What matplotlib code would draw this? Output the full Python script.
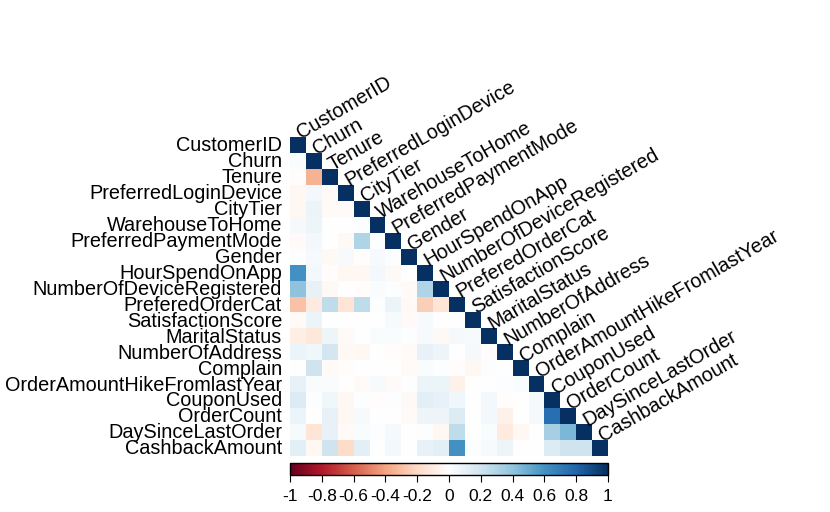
import numpy as np
import matplotlib.pyplot as plt
from matplotlib.colors import Normalize, LinearSegmentedColormap

plt.rcParams['font.family'] = ['Liberation Sans', 'DejaVu Sans']

labels = ['CustomerID', 'Churn', 'Tenure', 'PreferredLoginDevice', 'CityTier',
          'WarehouseToHome', 'PreferredPaymentMode', 'Gender', 'HourSpendOnApp',
          'NumberOfDeviceRegistered', 'PreferedOrderCat', 'SatisfactionScore',
          'MaritalStatus', 'NumberOfAddress', 'Complain',
          'OrderAmountHikeFromlastYear', 'CouponUsed', 'OrderCount',
          'DaySinceLastOrder', 'CashbackAmount']

# lower triangle of the correlation matrix, row by row (excluding diagonal)
lower = [
    [],
    [0.02],
    [-0.02, -0.35],
    [-0.05, 0.05, -0.03],
    [-0.05, 0.08, -0.03, -0.03],
    [0.04, 0.07, -0.01, 0.0, 0.01],
    [-0.03, 0.05, -0.01, -0.04, 0.30, 0.01],
    [0.01, 0.03, -0.04, 0.03, -0.02, 0.03, 0.01],
    [0.60, 0.05, -0.02, -0.05, -0.05, 0.05, -0.04, 0.0],
    [0.40, 0.10, -0.04, 0.0, -0.02, 0.02, 0.01, -0.03, 0.30],
    [-0.30, -0.12, 0.25, -0.15, 0.25, 0.01, 0.08, -0.04, -0.25, -0.15],
    [-0.03, 0.08, 0.0, -0.01, -0.01, 0.0, 0.03, -0.03, 0.03, -0.01, 0.0],
    [-0.10, -0.13, 0.07, -0.03, 0.0, 0.02, 0.02, 0.01, 0.03, -0.04, 0.04, 0.03],
    [0.08, 0.06, 0.18, -0.04, -0.05, 0.0, -0.02, -0.03, 0.10, 0.07, 0.0, 0.04, -0.02],
    [-0.01, 0.20, -0.03, -0.02, -0.01, 0.0, 0.0, -0.03, 0.02, 0.01, -0.02, -0.05, 0.01, -0.01],
    [0.10, 0.02, 0.02, 0.0, -0.03, 0.03, -0.03, 0.01, 0.08, 0.08, -0.08, 0.0, 0.0, 0.01, 0.02],
    [0.15, 0.01, 0.06, -0.05, 0.01, -0.02, 0.01, -0.04, 0.12, 0.10, 0.06, 0.0, 0.05, -0.02, 0.0, 0.04],
    [0.08, -0.01, 0.10, -0.05, 0.03, 0.0, -0.01, -0.03, 0.07, 0.07, 0.15, 0.0, 0.05, -0.08, 0.0, 0.04, 0.75],
    [0.03, -0.15, 0.10, -0.03, 0.02, 0.01, 0.04, 0.0, 0.01, -0.05, 0.25, 0.0, 0.02, -0.12, -0.05, 0.0, 0.33, 0.45],
    [0.12, -0.05, 0.20, -0.20, 0.12, 0.0, 0.05, 0.0, 0.10, 0.12, 0.60, 0.01, 0.03, 0.07, 0.0, 0.0, 0.15, 0.20, 0.20],
]

n = len(labels)
corr = np.full((n, n), np.nan)
for i, row in enumerate(lower):
    for j, v in enumerate(row):
        corr[i, j] = v
    corr[i, i] = 1.0
corr = np.ma.masked_invalid(corr)

# corrplot-style RdBu with a pure white centre
rdbu = ['#67001F', '#B2182B', '#D6604D', '#F4A582', '#FDDBC7', '#FFFFFF',
        '#D1E5F0', '#92C5DE', '#4393C3', '#2166AC', '#053061']
cmap = LinearSegmentedColormap.from_list('corr_rdbu', rdbu, N=200)
norm = Normalize(-1, 1)

fig = plt.figure(figsize=(8.3, 5.12), dpi=100)
ax = fig.add_axes([290 / 830, 1 - 456 / 512, 318 / 830, 319 / 512])
ax.pcolormesh(np.arange(n + 1) - 0.5, np.arange(n + 1) - 0.5, corr,
              cmap=cmap, norm=norm)
ax.set_xlim(-0.5, n - 0.5)
ax.set_ylim(n - 0.5, -0.5)
ax.axis('off')

# row labels
for i, lab in enumerate(labels):
    ax.text(-1.0, i + 0.05, lab, ha='right', va='center', fontsize=14.3)
# diagonal labels
for i, lab in enumerate(labels):
    ax.text(i + 0.33, i - 0.16, lab, ha='left', va='bottom', rotation=30,
            rotation_mode='anchor', fontsize=14.3, clip_on=False)

# colour bar
cax = fig.add_axes([290 / 830, 1 - 475 / 512, 318 / 830, 12 / 512])
sm = plt.cm.ScalarMappable(norm=norm, cmap=cmap)
cb = fig.colorbar(sm, cax=cax, orientation='horizontal')
cb.set_ticks(np.linspace(-1, 1, 11))
cb.set_ticklabels(['-1', '-0.8', '-0.6', '-0.4', '-0.2', '0', '0.2', '0.4',
                   '0.6', '0.8', '1'])
cb.ax.tick_params(labelsize=12.5, length=5, width=0.8, pad=5)
cb.outline.set_linewidth(1)

plt.savefig('out.png', dpi=100)
plt.close()
